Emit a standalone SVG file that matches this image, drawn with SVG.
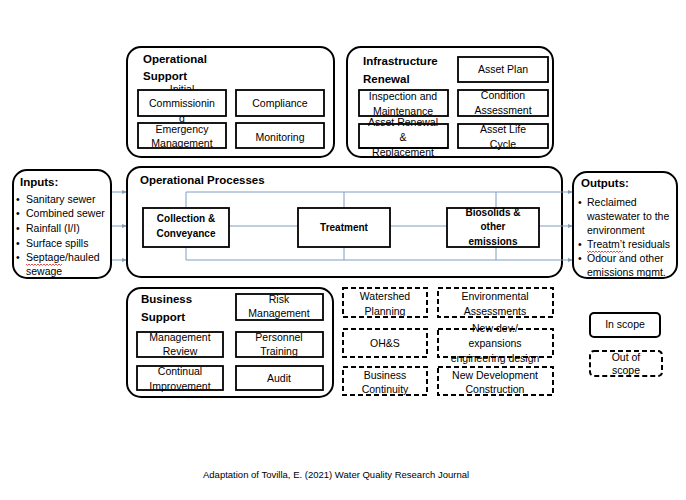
<svg xmlns="http://www.w3.org/2000/svg" width="686" height="500" viewBox="0 0 686 500">
<defs>
<marker id="ah" markerWidth="5" markerHeight="4" refX="5" refY="2" orient="auto" markerUnits="userSpaceOnUse">
<path d="M0,0 L5,2 L0,4 z" fill="#7f9cc0"/>
</marker>
<style>
.cont{fill:#fff;stroke:#000;stroke-width:2}
.box{fill:#fff;stroke:#000;stroke-width:1.8}
.dash{fill:#fff;stroke:#000;stroke-width:2;stroke-dasharray:5,3}
.nofill{fill:none}
.t{font-family:"Liberation Sans",Arial,sans-serif;font-size:10.5px;fill:#000}
.c{text-anchor:middle}
.b{font-family:"Liberation Sans",Arial,sans-serif;font-size:11.5px;font-weight:bold;fill:#000}
.bs{font-family:"Liberation Sans",Arial,sans-serif;font-size:10px;font-weight:bold;fill:#000;text-anchor:middle}
.ln{fill:none;stroke:#7f9cc0;stroke-width:1}
.sq{fill:none;stroke:#e02020;stroke-width:0.8}
</style>
</defs>
<rect width="686" height="500" fill="#fff"/>

<g id="connectors">
<path class="ln" d="M111,192 H127" marker-end="url(#ah)"/>
<path class="ln" d="M111,226 H127" marker-end="url(#ah)"/>
<path class="ln" d="M111,260 H127" marker-end="url(#ah)"/>
</g>

<g id="operational-processes">
<rect class="cont" x="127" y="167" width="435" height="110" rx="14"/>
<text class="b" x="140" y="184">Operational Processes</text>
</g>

<g id="process-lines">
<path class="ln" d="M186,192 H573" marker-end="url(#ah)"/>
<path class="ln" d="M186,260 H573" marker-end="url(#ah)"/>
<path class="ln" d="M229,226 H298 M390,226 H447"/>
<path class="ln" d="M539,226 H573" marker-end="url(#ah)"/>
<path class="ln" d="M186,192 V208 M186,247 V260 M344,192 V208 M344,247 V260 M496,192 V208 M496,247 V260"/>
</g>

<g id="collection">
<rect class="box" x="143" y="208" width="86" height="39"/>
<text class="bs" x="186" y="222">Collection &amp;</text>
<text class="bs" x="186" y="237">Conveyance</text>
</g>
<g id="treatment">
<rect class="box" x="298" y="208" width="92" height="39"/>
<text class="bs" x="344" y="231">Treatment</text>
</g>
<g id="biosolids">
<rect class="box" x="447" y="208" width="92" height="39"/>
<text class="bs" x="493" y="216">Biosolids &amp;</text>
<text class="bs" x="493" y="230">other</text>
<text class="bs" x="493" y="245">emissions</text>
</g>

<g id="inputs">
<rect class="cont" x="13" y="170" width="98" height="108" rx="14"/>
<text class="b" x="20" y="186">Inputs:</text>
<text class="t" x="16" y="203">•</text><text class="t" x="26" y="203">Sanitary sewer</text>
<text class="t" x="16" y="217">•</text><text class="t" x="26" y="217">Combined sewer</text>
<text class="t" x="16" y="232">•</text><text class="t" x="26" y="232">Rainfall (I/I)</text>
<text class="t" x="16" y="247">•</text><text class="t" x="26" y="247">Surface spills</text>
<text class="t" x="16" y="261">•</text><text class="t" x="26" y="261">Septage/hauled</text>
<text class="t" x="26" y="275">sewage</text>
<path class="sq" d="M26,264 l1.5,1.5 l1.5,-1.5 l1.5,1.5 l1.5,-1.5 l1.5,1.5 l1.5,-1.5 l1.5,1.5 l1.5,-1.5 l1.5,1.5 l1.5,-1.5 l1.5,1.5 l1.5,-1.5 l1.5,1.5 l1.5,-1.5 l1.5,1.5 l1.5,-1.5 l1.5,1.5 l1.5,-1.5 l1.5,1.5 l1.5,-1.5 l1.5,1.5 l1.5,-1.5 l1.5,1.5 l1.5,-1.5"/>
</g>

<g id="outputs">
<rect class="cont" x="573" y="172" width="104" height="106" rx="14"/>
<text class="b" x="581" y="187">Outputs:</text>
<text class="t" x="578" y="206">•</text><text class="t" x="587" y="206">Reclaimed</text>
<text class="t" x="587" y="220">wastewater to the</text>
<text class="t" x="587" y="234">environment</text>
<text class="t" x="578" y="248">•</text><text class="t" x="587" y="248">Treatm’t residuals</text>
<text class="t" x="578" y="262">•</text><text class="t" x="587" y="262">Odour and other</text>
<text class="t" x="587" y="276">emissions mgmt.</text>
<path class="sq" d="M587,251 l1.5,1.5 l1.5,-1.5 l1.5,1.5 l1.5,-1.5 l1.5,1.5 l1.5,-1.5 l1.5,1.5 l1.5,-1.5 l1.5,1.5 l1.5,-1.5 l1.5,1.5 l1.5,-1.5 l1.5,1.5 l1.5,-1.5 l1.5,1.5 l1.5,-1.5 l1.5,1.5 l1.5,-1.5 l1.5,1.5 l1.5,-1.5 l1.5,1.5 l1.5,-1.5 l1.5,1.5 l1.5,-1.5"/>
</g>

<g id="operational-support">
<rect class="cont" x="127" y="47" width="207" height="110" rx="14"/>
<text class="b" x="143" y="63">Operational</text>
<text class="b" x="143" y="80">Support</text>
</g>
<g id="initial-commissioning">
<text class="t c" x="182" y="93">Initial</text>
<rect class="box" x="138" y="90" width="88" height="26"/>
<text class="t c" x="182" y="107">Commissionin</text>
<text class="t c" x="182" y="122">g</text>
</g>
<g id="compliance">
<rect class="box" x="236" y="90" width="88" height="26"/>
<text class="t c" x="280" y="107">Compliance</text>
</g>
<g id="emergency-management">
<rect class="box" x="138" y="123" width="88" height="25"/>
<text class="t c" x="182" y="133">Emergency</text>
<text class="t c" x="182" y="147">Management</text>
</g>
<g id="monitoring">
<rect class="box" x="236" y="123" width="88" height="25"/>
<text class="t c" x="280" y="141">Monitoring</text>
</g>

<g id="infrastructure-renewal">
<rect class="cont" x="347" y="47" width="206" height="110" rx="14"/>
<text class="b" x="363" y="65">Infrastructure</text>
<text class="b" x="363" y="83">Renewal</text>
</g>
<g id="asset-plan">
<rect class="box" x="458" y="57" width="90" height="25"/>
<text class="t c" x="503" y="73">Asset Plan</text>
</g>
<g id="inspection-maintenance">
<rect class="box" x="359" y="90" width="89" height="26"/>
<text class="t c" x="403" y="100">Inspection and</text>
<text class="t c" x="403" y="115">Maintenance</text>
</g>
<g id="condition-assessment">
<rect class="box" x="458" y="90" width="90" height="26"/>
<text class="t c" x="503" y="99">Condition</text>
<text class="t c" x="503" y="114">Assessment</text>
</g>
<g id="asset-renewal">
<rect class="box" x="359" y="124" width="89" height="24"/>
<text class="t c" x="403" y="126">Asset Renewal</text>
<text class="t c" x="403" y="141">&amp;</text>
<text class="t c" x="403" y="156">Replacement</text>
<path d="M359,148 H448" stroke="#000" stroke-width="1.8"/>
</g>
<g id="asset-life-cycle">
<rect class="box" x="458" y="124" width="90" height="24"/>
<text class="t c" x="503" y="133">Asset Life</text>
<text class="t c" x="503" y="148">Cycle</text>
</g>

<g id="business-support">
<rect class="cont" x="127" y="288" width="206" height="109" rx="14"/>
<text class="b" x="141" y="303">Business</text>
<text class="b" x="141" y="321">Support</text>
</g>
<g id="risk-management">
<rect class="box" x="236" y="294" width="87" height="26"/>
<text class="t c" x="279" y="303">Risk</text>
<text class="t c" x="279" y="317">Management</text>
</g>
<g id="management-review">
<rect class="box" x="137" y="332" width="86" height="25"/>
<text class="t c" x="180" y="341">Management</text>
<text class="t c" x="180" y="355">Review</text>
</g>
<g id="personnel-training">
<rect class="box" x="236" y="332" width="87" height="25"/>
<text class="t c" x="279" y="341">Personnel</text>
<text class="t c" x="279" y="355">Training</text>
</g>
<g id="continual-improvement">
<rect class="box" x="137" y="366" width="86" height="24"/>
<text class="t c" x="180" y="375">Continual</text>
<text class="t c" x="180" y="390">Improvement</text>
</g>
<g id="audit">
<rect class="box" x="236" y="366" width="87" height="24"/>
<text class="t c" x="279" y="382">Audit</text>
</g>

<g id="watershed-planning">
<rect class="dash" x="343" y="288" width="84" height="29"/>
<text class="t c" x="385" y="300">Watershed</text>
<text class="t c" x="385" y="315">Planning</text>
</g>
<g id="environmental-assessments">
<rect class="dash" x="438" y="288" width="115" height="29"/>
<text class="t c" x="495" y="300">Environmental</text>
<text class="t c" x="495" y="315">Assessments</text>
</g>
<g id="ohs">
<rect class="dash" x="343" y="329" width="84" height="28"/>
<text class="t c" x="385" y="347">OH&amp;S</text>
</g>
<g id="new-dev-expansions">
<text class="t c" x="495" y="332">New dev./</text>
<text class="t c" x="495" y="347">expansions</text>
<text class="t c" x="495" y="362">engineering design</text>
<rect class="dash nofill" x="438" y="329" width="115" height="28"/>
</g>
<g id="business-continuity">
<rect class="dash" x="343" y="367" width="84" height="28"/>
<text class="t c" x="385" y="379">Business</text>
<text class="t c" x="385" y="393">Continuity</text>
</g>
<g id="new-development-construction">
<rect class="dash" x="438" y="367" width="115" height="28"/>
<text class="t c" x="495" y="379">New Development</text>
<text class="t c" x="495" y="393">Construction</text>
</g>

<g id="legend-in-scope">
<rect class="cont" x="590" y="313" width="70" height="24" rx="4"/>
<text class="t c" x="625" y="328">In scope</text>
</g>
<g id="legend-out-of-scope">
<rect class="dash" x="590" y="351" width="72" height="25" rx="4"/>
<text class="t c" x="626" y="361">Out of</text>
<text class="t c" x="626" y="374">scope</text>
</g>

<g id="caption">
<text class="t" x="203" y="478" style="font-size:9.5px">Adaptation of Tovilla, E. (2021) Water Quality Research Journal</text>
</g>
</svg>
